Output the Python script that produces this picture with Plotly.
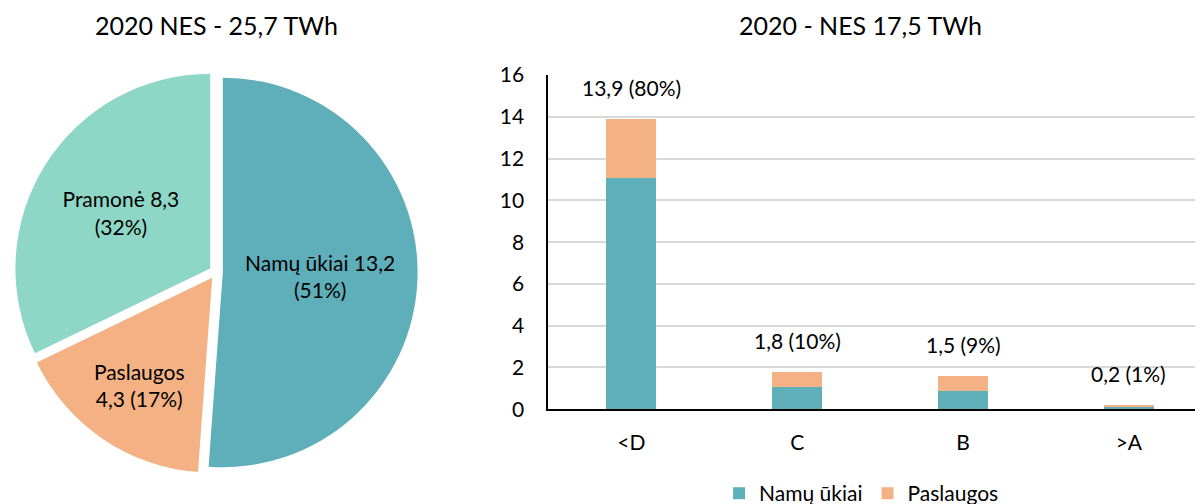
import plotly.graph_objects as go

# Pie data
pie_labels = ["Namų ūkiai", "Paslaugos", "Pramonė"]
pie_values = [13.2, 4.3, 8.3]
pie_text = ["Namų ūkiai 13,2<br>(51%)", "Paslaugos<br>4,3 (17%)", "Pramonė 8,3<br>(32%)"]
pie_colors = ["#5FAFBB", "#F4B183", "#8ED7C6"]

# Bar data
categories = ["<D", "C", "B", ">A"]
households = [11.08, 1.07, 0.86, 0.11]
services = [2.82, 0.70, 0.72, 0.08]
totals = [13.9, 1.77, 1.58, 0.19]
total_labels = ["13,9 (80%)", "1,8 (10%)", "1,5 (9%)", "0,2 (1%)"]

FONT = "Lato, Noto Sans, sans-serif"

fig = go.Figure()

fig.add_trace(go.Pie(
    labels=pie_labels, values=pie_values, text=pie_text,
    textinfo="text", textposition="inside", insidetextorientation="horizontal",
    sort=False, direction="clockwise", rotation=0,
    pull=[0.035, 0.035, 0.035],
    marker=dict(colors=pie_colors, line=dict(color="white", width=0)),
    textfont=dict(size=21, color="black", family=FONT),
    domain=dict(x=[0.003, 0.357], y=[0.06, 0.86]),
    showlegend=False, hoverinfo="label+value",
))

fig.add_trace(go.Bar(x=categories, y=households, name="Namų ūkiai",
                     marker=dict(color="#5FAFBB", line=dict(width=0)),
                     xaxis="x", yaxis="y"))
fig.add_trace(go.Bar(x=categories, y=services, name="Paslaugos",
                     marker=dict(color="#F4B183", line=dict(width=0)),
                     xaxis="x", yaxis="y"))

annotations = [
    dict(text="2020 NES - 25,7 TWh", x=0.180, y=0.95, xref="paper", yref="paper",
         showarrow=False, xanchor="center", yanchor="middle",
         font=dict(size=25, color="black", family=FONT)),
    dict(text="2020 - NES 17,5 TWh", x=0.717, y=0.95, xref="paper", yref="paper",
         showarrow=False, xanchor="center", yanchor="middle",
         font=dict(size=25, color="black", family=FONT)),
]
for c, t, lab in zip(categories, totals, total_labels):
    annotations.append(dict(text=lab, x=c, y=t, xref="x", yref="y",
                            showarrow=False, yanchor="bottom", yshift=17,
                            font=dict(size=21, color="black", family=FONT)))

fig.update_layout(
    width=1200, height=504,
    margin=dict(l=0, r=0, t=0, b=0, autoexpand=False),
    paper_bgcolor="white", plot_bgcolor="white",
    barmode="stack", bargap=0.7,
    font=dict(family=FONT, size=21, color="black"),
    xaxis=dict(domain=[0.457, 0.996], showline=True, linecolor="black", linewidth=2,
               ticks="", tickfont=dict(size=21, color="black"), anchor="y",
               range=[-0.5, 3.4], automargin=False, ticklabelstandoff=14),
    yaxis=dict(domain=[0.188, 0.851], range=[0, 16], dtick=2, showline=True,
               linecolor="black", linewidth=2, showgrid=True, gridcolor="#D9D9D9",
               gridwidth=2, tickfont=dict(size=21, color="black"), ticks="",
               zeroline=False, anchor="x", automargin=False, ticklabelstandoff=18),
    legend=dict(orientation="h", x=0.718, y=-0.02, xanchor="center", yanchor="bottom",
                font=dict(size=21, color="black", family=FONT), traceorder="normal"),
    annotations=annotations,
)

fig.write_html("out.html")
